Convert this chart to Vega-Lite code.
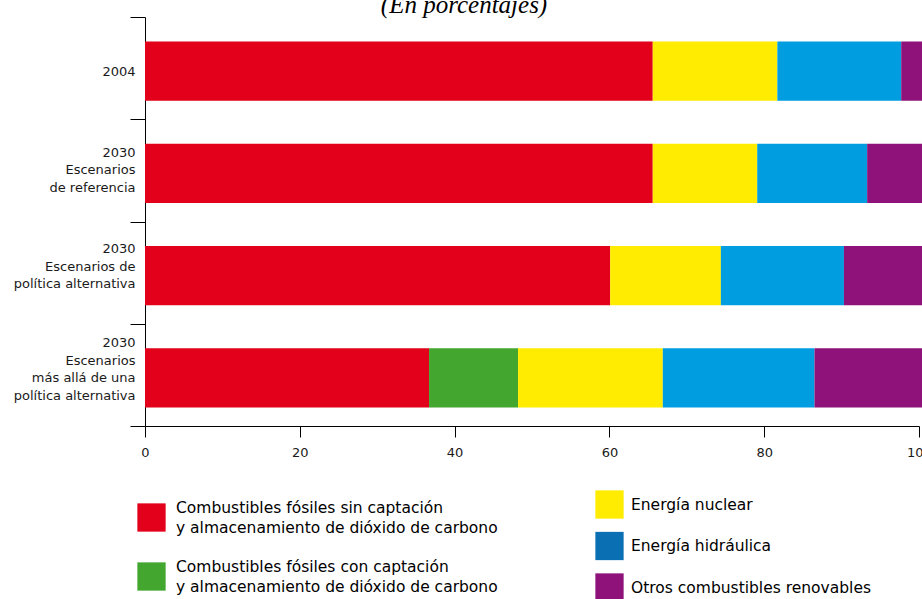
{
  "$schema": "https://vega.github.io/schema/vega-lite/v6.json",
  "width": 774,
  "height": 409,
  "autosize": "none",
  "padding": {"left": 145, "top": 17, "right": 3, "bottom": 173},
  "background": "white",
  "config": {"view": {"stroke": null}},
  "title": {
    "text": "(En porcentajes)",
    "font": "Liberation Serif",
    "fontStyle": "italic",
    "fontWeight": "normal",
    "fontSize": 25,
    "color": "#000000",
    "anchor": "middle",
    "frame": "group",
    "dx": -68,
    "offset": -27,
    "baseline": "alphabetic"
  },
  "data": {
    "values": [
      {"scenario": "2004", "series": "Combustibles fósiles sin captación|y almacenamiento de dióxido de carbono", "value": 65.6, "ord": 1},
      {"scenario": "2004", "series": "Energía nuclear", "value": 16.1, "ord": 3},
      {"scenario": "2004", "series": "Energía hidráulica", "value": 16.0, "ord": 4},
      {"scenario": "2004", "series": "Otros combustibles renovables", "value": 2.7, "ord": 5},
      {"scenario": "2030|Escenarios|de referencia", "series": "Combustibles fósiles sin captación|y almacenamiento de dióxido de carbono", "value": 65.6, "ord": 1},
      {"scenario": "2030|Escenarios|de referencia", "series": "Energía nuclear", "value": 13.5, "ord": 3},
      {"scenario": "2030|Escenarios|de referencia", "series": "Energía hidráulica", "value": 14.2, "ord": 4},
      {"scenario": "2030|Escenarios|de referencia", "series": "Otros combustibles renovables", "value": 7.1, "ord": 5},
      {"scenario": "2030|Escenarios de|política alternativa", "series": "Combustibles fósiles sin captación|y almacenamiento de dióxido de carbono", "value": 60.1, "ord": 1},
      {"scenario": "2030|Escenarios de|política alternativa", "series": "Energía nuclear", "value": 14.3, "ord": 3},
      {"scenario": "2030|Escenarios de|política alternativa", "series": "Energía hidráulica", "value": 15.9, "ord": 4},
      {"scenario": "2030|Escenarios de|política alternativa", "series": "Otros combustibles renovables", "value": 10.1, "ord": 5},
      {"scenario": "2030|Escenarios|más allá de una|política alternativa", "series": "Combustibles fósiles sin captación|y almacenamiento de dióxido de carbono", "value": 36.7, "ord": 1},
      {"scenario": "2030|Escenarios|más allá de una|política alternativa", "series": "Combustibles fósiles con captación|y almacenamiento de dióxido de carbono", "value": 11.5, "ord": 2},
      {"scenario": "2030|Escenarios|más allá de una|política alternativa", "series": "Energía nuclear", "value": 18.7, "ord": 3},
      {"scenario": "2030|Escenarios|más allá de una|política alternativa", "series": "Energía hidráulica", "value": 19.6, "ord": 4},
      {"scenario": "2030|Escenarios|más allá de una|política alternativa", "series": "Otros combustibles renovables", "value": 13.9, "ord": 5}
    ]
  },
  "layer": [
    {
      "mark": {"type": "bar", "height": {"band": 0.58}, "yOffset": 3},
      "encoding": {
        "y": {
          "field": "scenario",
          "type": "nominal",
          "sort": null,
          "scale": {
            "domain": ["2004", "2030|Escenarios|de referencia", "2030|Escenarios de|política alternativa", "2030|Escenarios|más allá de una|política alternativa"],
            "paddingInner": 0,
            "paddingOuter": 0
          },
          "axis": {
            "title": null,
            "tickBand": "extent",
            "tickSize": 15,
            "tickColor": "#000000",
            "tickWidth": 1,
            "domainColor": "#000000",
            "domainWidth": 1,
            "labelPadding": -5,
            "labelExpr": "isString(datum.value) ? split(datum.value, '|') : ''",
            "labelLineHeight": 17.5,
            "labelFont": "DejaVu Sans",
            "labelFontSize": 13,
            "labelColor": "#1a1a1a",
            "labelLimit": 250,
            "labelOffset": {
              "condition": [
                {"test": "!isString(datum.value)", "value": 0},
                {"test": "datum.value === '2004'", "value": 3},
                {"test": "datum.value === '2030|Escenarios|más allá de una|política alternativa'", "value": -32},
                {"test": "datum.value === '2030|Escenarios|de referencia'", "value": -18}
              ],
              "value": -24
            }
          }
        },
        "x": {
          "field": "value",
          "type": "quantitative",
          "stack": "zero",
          "scale": {"domain": [0, 100], "nice": false},
          "axis": {
            "title": null,
            "values": [0, 20, 40, 60, 80, 100],
            "tickSize": 11,
            "tickColor": "#000000",
            "domainColor": "#000000",
            "labelPadding": 9,
            "labelFont": "DejaVu Sans",
            "labelFontSize": 13,
            "labelColor": "#1a1a1a",
            "labelFlush": false,
            "grid": false
          }
        },
        "order": {"field": "ord", "type": "quantitative"},
        "color": {
          "field": "series",
          "type": "nominal",
          "scale": {
            "domain": ["Combustibles fósiles sin captación|y almacenamiento de dióxido de carbono", "Combustibles fósiles con captación|y almacenamiento de dióxido de carbono", "Energía nuclear", "Energía hidráulica", "Otros combustibles renovables"],
            "range": ["#E2001A", "#43A62E", "#FFEC00", "#009EE0", "#8E1279"]
          },
          "legend": null
        }
      }
    },
    {
      "transform": [{"filter": "datum.ord > 99"}],
      "mark": {"type": "bar"},
      "encoding": {
        "color": {
          "field": "series",
          "type": "nominal",
          "scale": {
            "domain": ["Combustibles fósiles sin captación|y almacenamiento de dióxido de carbono", "Combustibles fósiles con captación|y almacenamiento de dióxido de carbono"],
            "range": ["#E2001A", "#43A62E"]
          },
          "legend": {
            "orient": "none",
            "legendX": -8,
            "legendY": 486,
            "title": null,
            "padding": 0,
            "symbolType": "square",
            "symbolSize": 800,
            "symbolStrokeWidth": 0,
            "labelFont": "DejaVu Sans",
            "labelFontSize": 15.5,
            "labelColor": "#000000",
            "labelOffset": 10,
            "rowPadding": 23,
            "labelLimit": 500,
            "labelExpr": "split(datum.label, '|')",
            "encode": {"labels": {"update": {"lineHeight": {"value": 20}, "dy": {"value": -10}}}}
          }
        }
      }
    },
    {
      "transform": [{"filter": "datum.ord > 99"}],
      "mark": {"type": "bar"},
      "encoding": {
        "color": {
          "field": "series",
          "type": "nominal",
          "scale": {
            "domain": ["Energía nuclear", "Energía hidráulica", "Otros combustibles renovables"],
            "range": ["#FFEC00", "#0B6FB4", "#8E1279"]
          },
          "legend": {
            "orient": "none",
            "legendX": 450,
            "legendY": 473,
            "title": null,
            "padding": 0,
            "symbolType": "square",
            "symbolSize": 800,
            "symbolStrokeWidth": 0,
            "labelFont": "DejaVu Sans",
            "labelFontSize": 15.5,
            "labelColor": "#000000",
            "labelOffset": 7,
            "rowPadding": 12.5,
            "labelLimit": 500
          }
        }
      }
    }
  ],
  "resolve": {"scale": {"color": "independent"}}
}
